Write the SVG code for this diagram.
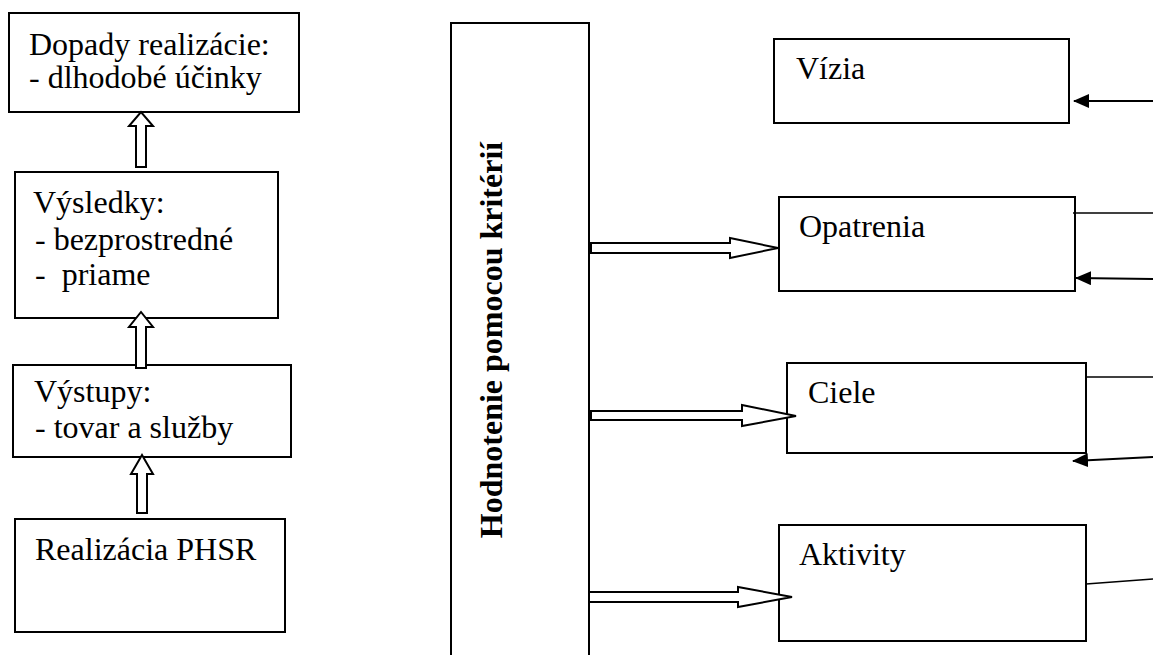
<svg xmlns="http://www.w3.org/2000/svg" width="1153" height="655" viewBox="0 0 1153 655">
<defs>
<style>
.box{fill:#fff;stroke:#000;stroke-width:2}
.t{font-family:'Liberation Serif', 'Times New Roman', 'DejaVu Serif', serif;font-size:32px;fill:#000;white-space:pre}
.tb{font-family:'Liberation Serif', 'Times New Roman', 'DejaVu Serif', serif;font-size:32px;font-weight:bold;fill:#000}
.hollow{fill:#fff;stroke:#000;stroke-width:2;stroke-linejoin:miter}
.ln{fill:none;stroke:#000;stroke-width:1.5}
.ar{fill:none;stroke:#000;stroke-width:2;marker-end:url(#ah)}
</style>
<marker id="ah" markerUnits="userSpaceOnUse" markerWidth="16" markerHeight="14" refX="15" refY="7" orient="auto">
<path d="M0,0 L16,7 L0,14 z" fill="#000"/>
</marker>
</defs>
<rect width="1153" height="655" fill="#fff"/>

<g id="dopady">
<rect class="box" x="9" y="13" width="290" height="99"/>
<text class="t" font-family="Liberation Serif, serif" x="29" y="55">Dopady realizácie:</text>
<text class="t" font-family="Liberation Serif, serif" x="29" y="88">- dlhodobé účinky</text>
</g>
<g id="vysledky">
<rect class="box" x="15" y="172" width="263" height="146"/>
<text class="t" x="33" y="213">Výsledky:</text>
<text class="t" x="35" y="250">- bezprostredné</text>
<text class="t" x="35" y="285">-  priame</text>
</g>
<g id="vystupy">
<rect class="box" x="13" y="365" width="278" height="92"/>
<text class="t" x="34" y="402">Výstupy:</text>
<text class="t" x="35" y="438">- tovar a služby</text>
</g>
<g id="realizacia">
<rect class="box" x="15" y="519" width="270" height="113"/>
<text class="t" x="35" y="560">Realizácia PHSR</text>
</g>

<g id="hodnotenie">
<rect class="box" x="451" y="23" width="138" height="660"/>
<text class="tb" text-anchor="middle" transform="translate(502,340) rotate(-90)">Hodnotenie pomocou kritérií</text>
</g>

<g id="vizia">
<rect class="box" x="774" y="39" width="295" height="84"/>
<text class="t" x="796" y="79">Vízia</text>
</g>
<g id="opatrenia">
<rect class="box" x="779" y="197" width="296" height="94"/>
<text class="t" x="799" y="237">Opatrenia</text>
</g>
<g id="ciele">
<rect class="box" x="787" y="363" width="299" height="90"/>
<text class="t" x="808" y="403">Ciele</text>
</g>
<g id="aktivity">
<rect class="box" x="779" y="525" width="307" height="116"/>
<text class="t" x="799" y="565">Aktivity</text>
</g>

<g id="connectors">
<polygon class="hollow" points="136,167 136,126 129,126 141,112 153,126 146,126 146,167"/>
<polygon class="hollow" points="136,368 136,327 129,327 141,312 153,327 146,327 146,368"/>
<polygon class="hollow" points="137,513 137,474 131,474 142,455 153,474 147,474 147,513"/>

<polygon class="hollow" points="591,243 730,243 730,238 778,248 730,258 730,253 591,253"/>
<polygon class="hollow" points="591,411 742,411 742,405 796,416 742,426 742,420 591,420"/>
<polygon class="hollow" points="589,592 738,592 738,587 792,597 738,607 738,602 589,602"/>

<line class="ar" x1="1153" y1="101" x2="1074" y2="101"/>
<line class="ln" x1="1073" y1="213" x2="1153" y2="213"/>
<line class="ar" x1="1153" y1="279" x2="1076" y2="278"/>
<line class="ln" x1="1087" y1="377" x2="1153" y2="377"/>
<line class="ar" x1="1153" y1="457" x2="1073" y2="461"/>
<line class="ln" x1="1086" y1="584" x2="1153" y2="579"/>
</g>
</svg>
